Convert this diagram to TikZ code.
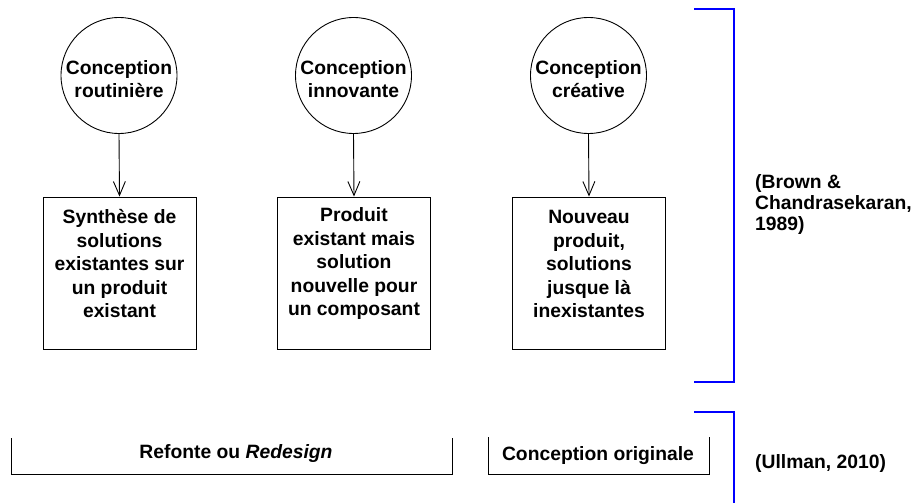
\documentclass[tikz,border=0pt]{standalone}
\usepackage{fontspec}
\setmainfont{Liberation Sans}
\usetikzlibrary{arrows.meta}
\tikzset{
  circ/.style={circle,draw=black,line width=0.9pt,minimum size=116pt,inner sep=0pt},
  boxnode/.style={rectangle,draw=black,line width=0.9pt,minimum width=153pt,minimum height=152pt,inner sep=0pt},
  txt/.style={align=center,inner sep=0pt,font=\bfseries\fontsize{19.3}{23.5}\selectfont},
  reftxt/.style={align=left,inner sep=0pt,font=\bfseries\fontsize{19.3}{21}\selectfont},
  arr/.style={line width=0.9pt,-{Straight Barb[length=14pt,width=12pt,line width=0.9pt]}},
  bracket/.style={draw=blue,line width=1.5pt},
  ubox/.style={draw=black,line width=0.9pt}
}
\begin{document}
\begin{tikzpicture}[x=1pt,y=-1pt]
\useasboundingbox (0,0) rectangle (916,503);
% circles
\node[circ] (c1) at (119,75.5) {};
\node[circ] (c2) at (353.5,75.5) {};
\node[circ] (c3) at (588.5,75.5) {};
\node[txt] (ct1) at (119,79) {Conception\\routinière};
\node[txt] (ct2) at (353.5,79) {Conception\\innovante};
\node[txt] (ct3) at (588.5,79) {Conception\\créative};
% boxes
\node[boxnode] (b1) at (119.5,273) {};
\node[boxnode] (b2) at (354,273) {};
\node[boxnode] (b3) at (589,273) {};
\node[txt] (bt1) at (119.5,264) {Synthèse de\\solutions\\existantes sur\\un produit\\existant};
\node[txt] (bt2) at (354,264) {Produit\\existant mais\\solution\\nouvelle pour\\un composant};
\node[txt] (bt3) at (589,264) {Nouveau\\produit,\\solutions\\jusque là\\inexistantes};
% arrows
\draw[arr] (c1.south) -- (b1.north);
\draw[arr] (c2.south) -- (b2.north);
\draw[arr] (c3.south) -- (b3.north);
% brackets
\draw[bracket] (694,9) -- (734,9) -- (734,382) -- (694,382);
\draw[bracket] (694,412) -- (734,412) -- (734,505);
\node[reftxt,anchor=base west] (r1) at (755,230) {(Brown \&\\Chandrasekaran,\\1989)};
\node[reftxt,anchor=base west] (r2) at (755,468) {(Ullman, 2010)};
% bottom U boxes
\draw[ubox] (11,438) -- (11,474) -- (452,474) -- (452,438);
\draw[ubox] (488,437) -- (488,474) -- (709,474) -- (709,437);
\node[txt,anchor=base] (u1) at (236,458) {Refonte ou \textit{Redesign}};
\node[txt,anchor=base] (u2) at (598,460) {Conception originale};
\end{tikzpicture}
\end{document}
